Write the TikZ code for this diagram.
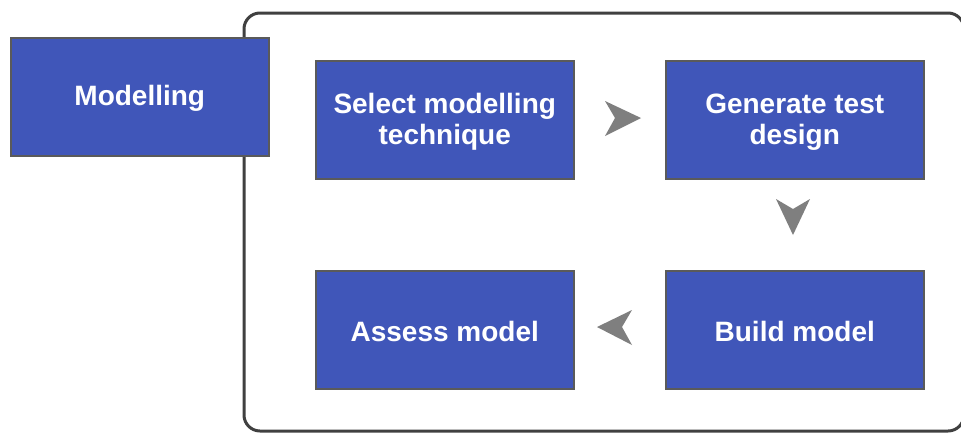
\documentclass[tikz,border=0pt]{standalone}
\usepackage{fontspec}
\setmainfont{Liberation Sans}
\definecolor{boxblue}{HTML}{4056B9}
\definecolor{boxedge}{HTML}{5A5A5A}
\definecolor{frameline}{HTML}{404040}
\definecolor{arrowgrey}{HTML}{7F7F7F}
\tikzset{
  stepbox/.style={draw=boxedge, line width=1.5pt, fill=boxblue, minimum width=258pt, minimum height=118pt,
    inner sep=0pt, anchor=north west},
  steptext/.style={inner sep=0pt, text=white, align=center, font=\fontsize{28}{31}\selectfont\bfseries},
  chev/.style={fill=arrowgrey, draw=none}
}
\begin{document}
\begin{tikzpicture}[x=1pt,y=-1pt]
\useasboundingbox (0,0) rectangle (961,432);
\fill[white] (0,0) rectangle (961,432);
\draw[frameline, line width=3pt, rounded corners=16pt] (244,13) rectangle (964,431);
\node[stepbox] (mod) at (10,37) {};
\node[stepbox] (sel) at (315,60) {};
\node[stepbox] (gen) at (665,60) {};
\node[stepbox] (ass) at (315,270) {};
\node[stepbox] (bld) at (665,270) {};
\node[steptext] (modt) at ([yshift=-2pt]mod.center) {Modelling};
\node[steptext] (selt) at ([yshift=-2pt]sel.center) {Select modelling\\technique};
\node[steptext] (gent) at ([yshift=-2pt]gen.center) {Generate test\\design};
\node[steptext] (asst) at ([yshift=-2pt]ass.center) {Assess model};
\node[steptext] (bldt) at ([yshift=-2pt]bld.center) {Build model};
% chevrons
\fill[chev] (605,101) -- (641,118) -- (605,136) -- (615,118) -- cycle;
\fill[chev] (776,199) -- (793,235) -- (810,199) -- (793,209) -- cycle;
\fill[chev] (632,310) -- (597,327) -- (632,345) -- (622,327) -- cycle;
\end{tikzpicture}
\end{document}
